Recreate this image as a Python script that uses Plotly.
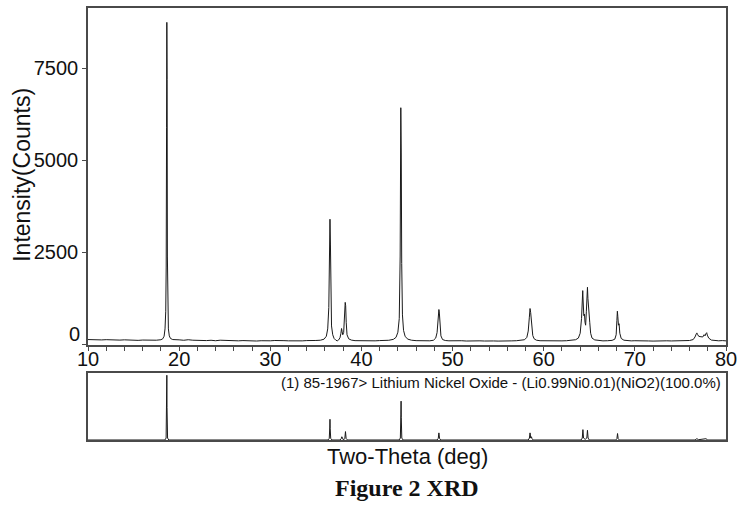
import plotly.graph_objects as go

meas_2theta = [
    10.0, 10.5, 11.0, 11.5, 12.0, 12.5, 13.0, 13.5, 14.0, 14.5, 15.0, 15.5, 16.0, 16.5, 17.0, 17.5, 18.0,
    18.2, 18.35, 18.45, 18.53, 18.58, 18.62, 18.65, 18.68, 18.71, 18.75, 18.82, 18.92, 19.05, 19.3, 19.6,
    20.0, 20.5, 21.0, 21.5, 22.0, 22.5, 23.0, 23.5, 24.0, 24.5, 25.0, 25.5, 26.0, 26.5, 27.0, 27.5, 28.0,
    28.5, 29.0, 29.5, 30.0, 30.5, 31.0, 31.5, 32.0, 32.5, 33.0, 33.5, 34.0, 34.5, 35.0, 35.5,
    35.9, 36.15, 36.3, 36.42, 36.5, 36.55, 36.6, 36.65, 36.72, 36.85, 37.0, 37.2, 37.35,
    37.5, 37.65, 37.75, 37.82, 37.88, 37.95, 38.05, 38.15, 38.22, 38.27, 38.33, 38.42, 38.6, 38.9,
    39.3, 39.7, 40.0, 40.5, 41.0, 41.5, 42.0, 42.5, 43.0, 43.5,
    43.8, 44.0, 44.15, 44.25, 44.32, 44.37, 44.42, 44.5, 44.62, 44.8, 45.1, 45.5,
    46.0, 46.5, 47.0, 47.5, 47.9, 48.15, 48.3, 48.42, 48.5, 48.55, 48.62, 48.72, 48.9, 49.2, 49.6,
    50.0, 50.5, 51.0, 51.5, 52.0, 52.5, 53.0, 53.5, 54.0, 54.5, 55.0, 55.5, 56.0, 56.5, 57.0, 57.5,
    57.9, 58.15, 58.3, 58.42, 58.5, 58.57, 58.63, 58.7, 58.8, 58.95, 59.2, 59.6,
    60.0, 60.5, 61.0, 61.5, 62.0, 62.5, 63.0, 63.5,
    63.8, 64.0, 64.15, 64.24, 64.28, 64.33, 64.4, 64.47, 64.53, 64.6, 64.68, 64.75, 64.8, 64.85,
    64.92, 64.97, 65.05, 65.15, 65.3, 65.6, 66.0, 66.5, 67.0, 67.5,
    67.8, 67.95, 68.03, 68.08, 68.13, 68.2, 68.27, 68.35, 68.5, 68.8, 69.2, 69.6,
    70.0, 70.5, 71.0, 71.5, 72.0, 72.5, 73.0, 73.5, 74.0, 74.5, 75.0, 75.5, 76.0,
    76.4, 76.6, 76.75, 76.8, 76.88, 77.0, 77.15, 77.3, 77.45, 77.6, 77.7, 77.8, 77.88, 77.95,
    78.1, 78.4, 78.8, 79.2, 79.6, 80.0,
]
meas_counts = [
    130, 124, 133, 120, 127, 118, 125, 115, 122, 112, 119, 108, 116, 110, 118, 112, 125,
    150, 220, 420, 900, 2100, 5900, 8750, 7200, 2400, 800, 420, 230, 160, 130, 118,
    122, 110, 125, 112, 106, 115, 102, 110, 98, 112, 104, 96, 108, 95, 102, 92, 100,
    90, 98, 88, 96, 104, 92, 100, 95, 90, 98, 94, 102, 97, 105, 112,
    140, 220, 420, 1000, 2600, 3400, 2700, 1200, 500, 260, 160, 110, 95,
    120, 180, 300, 430, 350, 260, 320, 700, 1140, 1050, 600, 260, 150, 115,
    100, 96, 104, 92, 100, 95, 102, 98, 110, 135,
    190, 330, 700, 2400, 6430, 5200, 2200, 800, 380, 210, 140, 112,
    100, 94, 102, 96, 110, 170, 320, 700, 946, 850, 480, 230, 130, 104, 96,
    100, 92, 98, 90, 96, 88, 95, 90, 98, 92, 88, 96, 90, 94, 98, 104,
    125, 190, 360, 720, 973, 860, 620, 420, 240, 150, 112, 98,
    95, 90, 96, 88, 94, 98, 104, 125,
    170, 300, 700, 1300, 1460, 1150, 780, 820, 600, 520, 900, 1400, 1550, 1250,
    900, 980, 600, 300, 170, 120, 102, 94, 98, 108,
    140, 260, 650, 900, 760, 520, 560, 300, 160, 112, 100, 94,
    98, 90, 96, 92, 88, 95, 90, 96, 92, 98, 94, 100, 104,
    130, 200, 290, 310, 270, 220, 210, 200, 200, 262, 230, 290, 316, 250,
    170, 115, 100, 96, 102, 94,
]

# Reference card 85-1967 (relative intensity, %)
ref_2theta = [
    10.0,
    18.43, 18.57, 18.63, 18.65, 18.67, 18.73, 18.87,
    36.33, 36.47, 36.53, 36.55, 36.57, 36.63, 36.77,
    37.65, 37.78, 37.85, 37.92, 38.03, 38.18, 38.25, 38.32, 38.47,
    44.13, 44.27, 44.33, 44.35, 44.37, 44.43, 44.57,
    48.3, 48.43, 48.5, 48.57, 48.7,
    58.3, 58.43, 58.5, 58.58, 58.65, 58.72, 58.85,
    64.1, 64.23, 64.3, 64.37, 64.55, 64.73, 64.8, 64.87, 65.0,
    67.9, 68.03, 68.1, 68.17, 68.3,
    76.6, 76.8, 77.0, 77.4, 77.6, 77.8, 78.0,
    80.0,
]
ref_rel = [
    0,
    0, 3, 60, 100, 50, 3, 0,
    0, 2.5, 20, 32, 18, 2.5, 0,
    0, 2, 5, 2, 0, 2.5, 13, 2.5, 0,
    0, 3, 40, 60, 35, 3, 0,
    0, 2.5, 11, 2.5, 0,
    0, 3, 11, 3, 5, 2, 0,
    0, 3, 16, 3, 1, 3, 15, 3, 0,
    0, 2, 10, 2, 0,
    0, 2, 0.5, 1.5, 1, 2, 0,
    0,
]

y_tickvals = [0, 2500, 5000, 7500]
y_ticktext = ["", "2500", "5000", "7500"]
ref_label = "(1) 85-1967> Lithium Nickel Oxide - (Li0.99Ni0.01)(NiO2)(100.0%)"

SANS = "Liberation Sans, Arial, sans-serif"
SERIF = "Liberation Serif, Times New Roman, serif"
AX = "#4a4a4a"

fig = go.Figure()
fig.add_trace(go.Scatter(x=meas_2theta, y=meas_counts, mode="lines",
                         line=dict(color="#1a1a1a", width=1), xaxis="x", yaxis="y",
                         hoverinfo="skip"))
fig.add_trace(go.Scatter(x=ref_2theta, y=ref_rel, mode="lines",
                         line=dict(color="#1a1a1a", width=1), xaxis="x2", yaxis="y2",
                         hoverinfo="skip"))

fig.update_layout(
    width=750, height=510,
    margin=dict(l=88, r=24, t=6, b=70),
    paper_bgcolor="white", plot_bgcolor="white",
    showlegend=False,
    font=dict(family=SANS, color="#111111"),
    xaxis=dict(range=[10, 80], domain=[0, 1], anchor="y",
               showline=True, mirror=True, linecolor=AX, linewidth=1.5,
               ticks="outside", ticklen=4, tickcolor=AX, tickwidth=1,
               tick0=10, dtick=10, ticklabelstandoff=-9,
               minor=dict(dtick=2, ticks="outside", ticklen=4, tickcolor=AX, tickwidth=1),
               showgrid=False, zeroline=False,
               tickfont=dict(size=20, family=SANS, color="#111111")),
    yaxis=dict(range=[-30, 9140], domain=[0.2189, 1], anchor="x",
               showline=True, mirror=True, linecolor=AX, linewidth=1.5,
               ticks="outside", ticklen=4, tickcolor=AX, tickwidth=1,
               tickvals=y_tickvals, ticktext=y_ticktext,
               showgrid=False, zeroline=False,
               tickfont=dict(size=20, family=SANS, color="#111111")),
    xaxis2=dict(range=[10, 80], domain=[0, 1], anchor="y2",
                showline=True, mirror=True, linecolor=AX, linewidth=1.5,
                ticks="", showticklabels=False, showgrid=False, zeroline=False),
    yaxis2=dict(range=[0, 103], domain=[0, 0.1544], anchor="x2",
                showline=True, mirror=True, linecolor=AX, linewidth=1.5,
                ticks="", showticklabels=False, showgrid=False, zeroline=False),
)

fig.add_annotation(text="0", xref="paper", yref="paper", x=-0.0094, y=0.2465,
                   xanchor="right", yanchor="middle", showarrow=False,
                   font=dict(size=20, family=SANS, color="#111111"))
fig.add_annotation(text="Intensity(Counts)", xref="paper", yref="paper",
                   x=-0.1034, y=0.614, textangle=-90,
                   xanchor="center", yanchor="middle", showarrow=False,
                   font=dict(size=23, family=SANS, color="#111111"))
fig.add_annotation(text=ref_label, xref="paper", yref="paper", x=0.9953, y=0.134,
                   xanchor="right", yanchor="middle", showarrow=False,
                   font=dict(size=15, family=SANS, color="#111111"))
fig.add_annotation(text="Two-Theta (deg)", xref="paper", yref="paper", x=0.5, y=-0.0392,
                   xanchor="center", yanchor="middle", showarrow=False,
                   font=dict(size=22, family=SANS, color="#111111"))
fig.add_annotation(text="<b>Figure 2 XRD</b>", xref="paper", yref="paper", x=0.5, y=-0.1106,
                   xanchor="center", yanchor="middle", showarrow=False,
                   font=dict(size=24, family=SERIF, color="#111111"))

fig.write_html("out.html")
